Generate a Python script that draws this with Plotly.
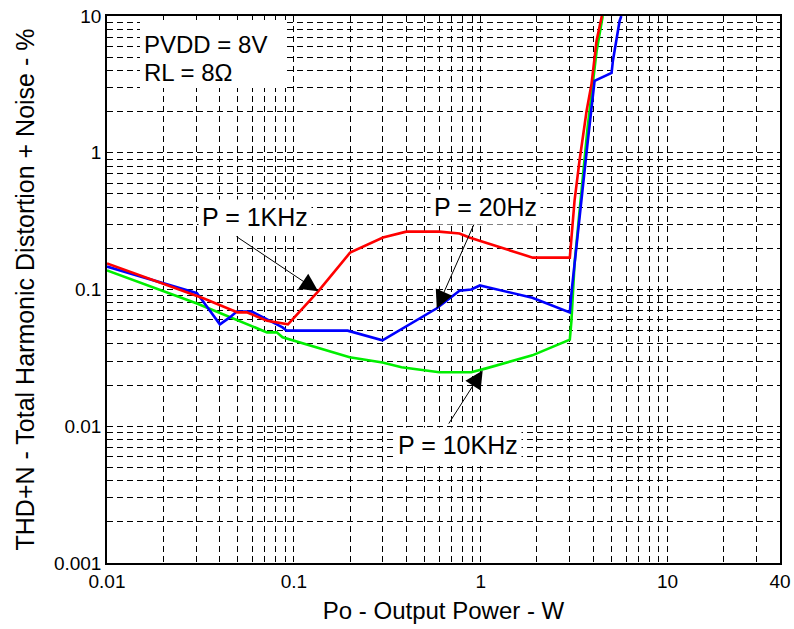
import numpy as np
import plotly.graph_objects as go

# ---- data ----
red_x = [0.01, 0.03, 0.033, 0.05, 0.056, 0.072, 0.093, 0.135, 0.2, 0.3, 0.4, 0.6, 0.77, 0.87, 1.9, 3.0,
         3.1, 3.18, 3.38, 3.69, 3.92, 4.17, 4.45]
red_y = [0.155, 0.090, 0.086, 0.068, 0.068, 0.059, 0.0556, 0.097, 0.186, 0.24, 0.265, 0.265, 0.257, 0.24,
         0.171, 0.171, 0.284, 0.446, 0.874, 2.03, 3.19, 6.57, 10.0]

blue_x = [0.01, 0.0303, 0.034, 0.0402, 0.0454, 0.0495, 0.0596, 0.0684, 0.087, 0.0915, 0.194, 0.298, 0.58,
          0.77, 0.89, 0.99, 1.09, 1.89, 3.0, 3.07, 3.18, 3.3, 3.73, 4.07, 5.02, 5.1, 5.54, 5.66]
blue_y = [0.147, 0.094, 0.076, 0.0556, 0.0625, 0.069, 0.069, 0.0625, 0.0528, 0.050, 0.050, 0.0425, 0.0726,
          0.098, 0.1, 0.107, 0.104, 0.087, 0.068, 0.098, 0.155, 0.256, 1.16, 3.35, 3.84, 4.69, 9.2, 10.0]

green_x = [0.01, 0.0303, 0.0718, 0.081, 0.087, 0.199, 0.298, 0.377, 0.6, 0.89, 1.07, 1.89, 3.0, 3.06,
           3.18, 3.5, 3.73, 4.17, 4.5]
green_y = [0.138, 0.079, 0.0486, 0.0486, 0.0447, 0.032, 0.0293, 0.027, 0.0248, 0.0248, 0.0265, 0.033,
           0.043, 0.059, 0.155, 0.625, 1.5, 5.5, 10.0]

x_ticks = [0.01, 0.1, 1, 10, 40]
x_ticktext = ["0.01", "0.1", "1", "10", "40"]
y_ticks = [0.001, 0.01, 0.1, 1, 10]
y_ticktext = ["0.001", "0.01", "0.1", "1", "10"]
x_minor = [m * d for d in (0.01, 0.1, 1) for m in range(2, 10)] + [20, 30]
y_minor = [m * d for d in (0.001, 0.01, 0.1, 1) for m in range(2, 10)]

# labels: (text, label pos x, y, arrow tail x, y, arrow head x, y)
labels = [
    ("P = 1KHz", 0.0619, 0.341, 0.0484, 0.248, 0.135, 0.097),
    ("P = 20Hz", 1.064, 0.404, 0.929, 0.308, 0.582, 0.0726),
    ("P = 10KHz", 0.753, 0.00726, 0.667, 0.0102, 1.025, 0.0256),
]

FONT = "Liberation Sans, Arial, sans-serif"

fig = go.Figure()
for xs, ys, col, name in [(green_x, green_y, "#00ee00", "10KHz"),
                          (blue_x, blue_y, "#0000ff", "20Hz"),
                          (red_x, red_y, "#ff0000", "1KHz")]:
    fig.add_trace(go.Scatter(x=xs, y=ys, mode="lines", name=name,
                             line=dict(color=col, width=2.6), cliponaxis=True))

annotations = []
for text, lx, ly, tx, ty, hx, hy in labels:
    annotations.append(dict(x=np.log10(hx), y=np.log10(hy), ax=np.log10(tx), ay=np.log10(ty),
                            xref="x", yref="y", axref="x", ayref="y", text="",
                            showarrow=True, arrowhead=2, arrowsize=3.6, arrowwidth=1,
                            arrowcolor="black", standoff=0))
    annotations.append(dict(x=np.log10(lx), y=np.log10(ly), xref="x", yref="y", text=text,
                            showarrow=False, bgcolor="white", borderpad=3,
                            font=dict(family=FONT, size=25, color="black")))

PH = 547.0  # plot height in px
annotations.append(dict(x=0.052, y=(547 - 28) / PH, xref="paper", yref="paper", text="PVDD = 8V",
                        xanchor="left", yanchor="middle", showarrow=False,
                        font=dict(family=FONT, size=24, color="black")))
annotations.append(dict(x=0.052, y=(547 - 56) / PH, xref="paper", yref="paper", text="RL = 8Ω",
                        xanchor="left", yanchor="middle", showarrow=False,
                        font=dict(family=FONT, size=24, color="black")))

shapes = [dict(type="rect", xref="paper", yref="paper",
               x0=(140 - 107) / 673, x1=(286 - 107) / 673,
               y0=(547 - 72) / PH, y1=(547 - 4) / PH,
               fillcolor="white", line=dict(width=0), layer="above")]

axis_common = dict(
    type="log", showline=True, linecolor="black", linewidth=1.5, mirror=True,
    showgrid=True, gridcolor="black", gridwidth=1, griddash="6px,4px",
    ticks="", zeroline=False, automargin=False, ticklabeloverflow="allow",
    tickfont=dict(family=FONT, size=19, color="black"),
)

fig.update_layout(
    width=794, height=629,
    margin=dict(l=107, r=14, t=16, b=66),
    paper_bgcolor="white", plot_bgcolor="white",
    showlegend=False,
    annotations=annotations,
    shapes=shapes,
    xaxis=dict(**axis_common, range=[-2, np.log10(40)], tickmode="array",
               tickvals=x_ticks, ticktext=x_ticktext,
               minor=dict(tickmode="array", tickvals=x_minor, showgrid=True,
                          gridcolor="black", gridwidth=1, griddash="6px,4px"),
               title=dict(text="Po - Output Power - W", standoff=12,
                          font=dict(family=FONT, size=24, color="black"))),
    yaxis=dict(**axis_common, range=[-3, 1], tickmode="array",
               tickvals=y_ticks, ticktext=y_ticktext,
               minor=dict(tickmode="array", tickvals=y_minor, showgrid=True,
                          gridcolor="black", gridwidth=1, griddash="6px,4px"),
               title=dict(text="THD+N - Total Harmonic Distortion + Noise - %", standoff=12,
                          font=dict(family=FONT, size=25, color="black"))),
)

fig.write_html("out.html", config={"displayModeBar": False},
               post_script="document.body.style.margin='0px';")
